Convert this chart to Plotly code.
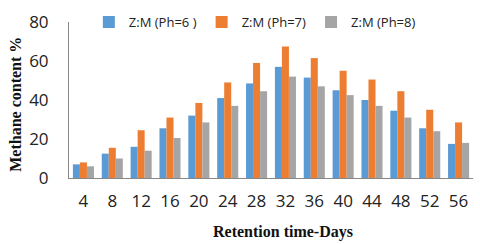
import plotly.graph_objects as go

days = ["4", "8", "12", "16", "20", "24", "28", "32", "36", "40", "44", "48", "52", "56"]
ph6 = [7, 12.5, 16, 25.5, 32, 41, 48.5, 57, 51.5, 45, 40, 34.5, 25.5, 17.5]
ph7 = [8, 15.5, 24.5, 31, 38.5, 49, 59, 67.5, 61.5, 55, 50.5, 44.5, 35, 28.5]
ph8 = [6, 10, 14, 20.5, 28.5, 37, 44.5, 52, 47, 42.5, 37, 31, 24, 18]
names = ["Z:M (Ph=6 )", "Z:M (Ph=7)", "Z:M (Ph=8)"]
colors = ["#5B9BD5", "#ED7D31", "#A5A5A5"]

fig = go.Figure()
for n, v, c in zip(names, [ph6, ph7, ph8], colors):
    fig.add_trace(go.Bar(x=days, y=v, name=n, marker_color=c, marker_line_width=0))

fig.update_layout(
    width=480, height=244,
    margin=dict(l=69, r=7, t=18, b=66),
    plot_bgcolor="white", paper_bgcolor="white",
    barmode="group", bargap=0.27, bargroupgap=0,
    font=dict(family="Open Sans, Liberation Sans, sans-serif", color="#222"),
    legend=dict(orientation="h", x=0.46, xanchor="center", y=1.0, yanchor="middle",
                font=dict(size=13), itemwidth=30, bgcolor="rgba(0,0,0,0)",
                traceorder="normal"),
    xaxis=dict(showline=True, linecolor="#888", linewidth=1, showgrid=False,
               tickfont=dict(size=17), ticks="", ticklabelstandoff=8),
    yaxis=dict(range=[0, 80], dtick=20, showline=True, linecolor="#888", linewidth=1,
               showgrid=False, zeroline=False, tickfont=dict(size=17), ticks="",
               ticklabelstandoff=16),
    annotations=[
        dict(text="<b>Methane content %</b>", textangle=-90, xref="paper", yref="paper",
             x=-0.131, y=0.47, xanchor="center", yanchor="middle", showarrow=False,
             font=dict(family="Liberation Serif, Times New Roman, serif", size=16, color="#111")),
        dict(text="<b>Retention time-Days</b>", xref="paper", yref="paper",
             x=0.53, y=-0.345, xanchor="center", yanchor="middle", showarrow=False,
             font=dict(family="Liberation Serif, Times New Roman, serif", size=16, color="#111")),
    ],
)
fig.write_html("out.html", config={"displayModeBar": False},
               post_script="document.body.style.margin='0';document.body.style.overflow='hidden';")
